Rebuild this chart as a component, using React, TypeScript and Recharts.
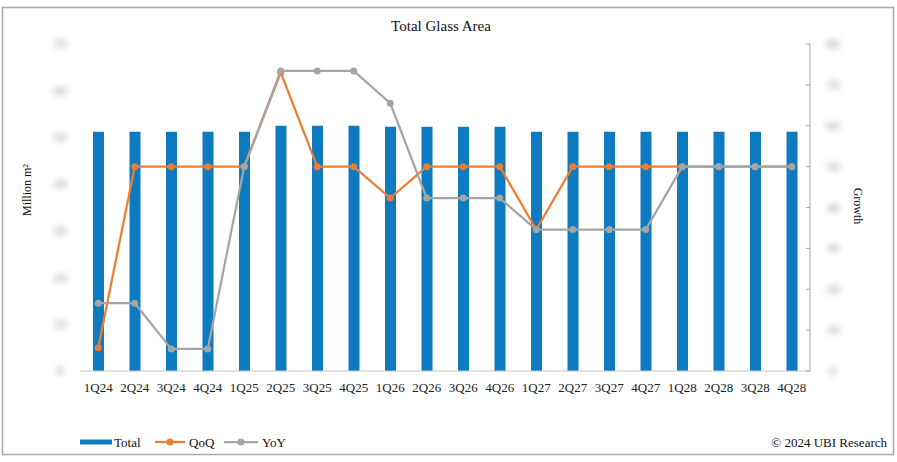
import { ComposedChart, Bar, Line, XAxis, YAxis } from 'recharts';

const quarters = [
  '1Q24', '2Q24', '3Q24', '4Q24', '1Q25', '2Q25', '3Q25', '4Q25', '1Q26', '2Q26',
  '3Q26', '4Q26', '1Q27', '2Q27', '3Q27', '4Q27', '1Q28', '2Q28', '3Q28', '4Q28',
];
// tick labels are blurred out in the source, values below are estimates on that hidden scale
const total = [51.2, 51.2, 51.2, 51.2, 51.2, 52.5, 52.5, 52.5, 52.3, 52.3, 52.3, 52.3, 51.2, 51.2, 51.2, 51.2, 51.2, 51.2, 51.2, 51.2];
const qoq = [5.7, 50, 50, 50, 50, 73, 50, 50, 42.3, 50, 50, 50, 34.6, 50, 50, 50, 50, 50, 50, 50];
const yoy = [16.6, 16.6, 5.4, 5.4, 50, 73.4, 73.4, 73.4, 65.5, 42.3, 42.3, 42.3, 34.6, 34.6, 34.6, 34.6, 50, 50, 50, 50];
const leftTicks = [0, 10, 20, 30, 40, 50, 60, 70];
const rightTicks = [0, 10, 20, 30, 40, 50, 60, 70, 80];

const data = quarters.map((q, i) => ({ q, Total: total[i], QoQ: qoq[i], YoY: yoy[i] }));

const FONT = '"Liberation Serif", "Times New Roman", serif';
const BLUE = '#0E7AC0';
const ORANGE = '#ED7D31';
const GRAY = '#A5A5A5';

const BlurTick = ({ y, payload, tx }: any) => (
  <text
    x={tx}
    y={y}
    dy={4}
    textAnchor="middle"
    fontSize={13}
    fontWeight="bold"
    fontFamily={FONT}
    fill="#b0b0b0"
    style={{ filter: 'blur(3px)' }}
  >
    {payload.value}
  </text>
);

export default function App() {
  return (
    <div style={{ position: 'absolute', left: 0, top: 0, width: 897, height: 462, background: '#fff' }}>
      <ComposedChart width={897} height={462} data={data} margin={{ top: 44, right: 37, left: 0, bottom: 61 }}>
        <XAxis
          dataKey="q"
          height={30}
          tickLine={false}
          tickSize={0}
          tickMargin={12}
          axisLine={{ stroke: '#c4c4c4' }}
          interval={0}
          tick={{ fontSize: 13, fontFamily: FONT, fill: '#222' }}
        />
        <YAxis
          yAxisId="left"
          width={80}
          domain={[0, 70]}
          ticks={leftTicks}
          axisLine={false}
          tickLine={false}
          tick={(p: any) => <BlurTick {...p} tx={60} />}
        />
        <YAxis
          yAxisId="right"
          orientation="right"
          width={50}
          domain={[0, 80]}
          ticks={rightTicks}
          axisLine={{ stroke: '#a6a6a6' }}
          tickLine={{ stroke: '#a6a6a6' }}
          tickSize={-4}
          tick={(p: any) => <BlurTick {...p} tx={833} />}
        />
        <Bar yAxisId="left" dataKey="Total" fill={BLUE} barSize={11} isAnimationActive={false} />
        <Line
          yAxisId="right"
          dataKey="QoQ"
          stroke={ORANGE}
          strokeWidth={2.25}
          dot={{ r: 3.5, fill: ORANGE, stroke: 'none' }}
          isAnimationActive={false}
        />
        <Line
          yAxisId="right"
          dataKey="YoY"
          stroke={GRAY}
          strokeWidth={2.25}
          dot={{ r: 3.5, fill: GRAY, stroke: 'none' }}
          isAnimationActive={false}
        />
      </ComposedChart>
      <svg width={897} height={462} style={{ position: 'absolute', left: 0, top: 0, pointerEvents: 'none' }}>
        <rect x={2.5} y={7.5} width={891} height={447} fill="none" stroke="#a9a9a9" strokeWidth={1.5} />
        <text x={441} y={31} textAnchor="middle" fontSize={15} fontFamily={FONT} fill="#111">Total Glass Area</text>
        <text transform="translate(31,190) rotate(-90)" textAnchor="middle" fontSize={12} fontFamily={FONT} fill="#111">
          Million m²
        </text>
        <text transform="translate(854,206) rotate(90)" textAnchor="middle" fontSize={12} fontFamily={FONT} fill="#111">
          Growth
        </text>
        <rect x={80} y={439.5} width={32} height={5} fill={BLUE} />
        <text x={114} y={446.5} fontSize={13} fontFamily={FONT} fill="#111">Total</text>
        <line x1={155} x2={185} y1={442} y2={442} stroke={ORANGE} strokeWidth={2.25} />
        <circle cx={170} cy={442} r={3.5} fill={ORANGE} />
        <text x={189} y={446.5} fontSize={13} fontFamily={FONT} fill="#111">QoQ</text>
        <line x1={224} x2={258} y1={442} y2={442} stroke={GRAY} strokeWidth={2.25} />
        <circle cx={241} cy={442} r={3.5} fill={GRAY} />
        <text x={262} y={446.5} fontSize={13} fontFamily={FONT} fill="#111">YoY</text>
        <text x={887} y={447} textAnchor="end" fontSize={13} fontFamily={FONT} fill="#111">© 2024 UBI Research</text>
      </svg>
    </div>
  );
}
